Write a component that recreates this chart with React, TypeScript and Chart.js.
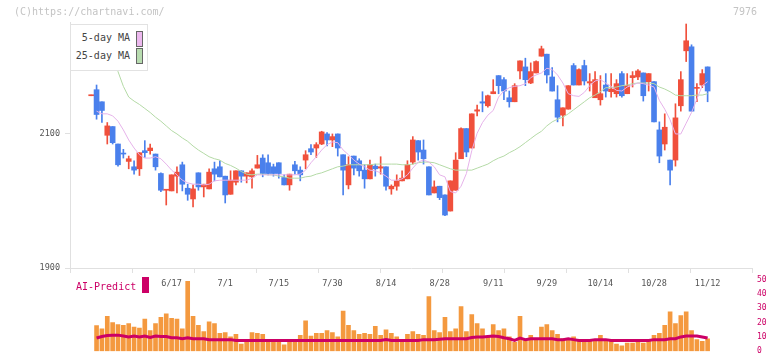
import React, { useEffect, useRef } from "react";
import { Chart, registerables } from "chart.js";

Chart.register(...registerables);

const MONO = '"DejaVu Sans Mono", "Liberation Mono", monospace';
const RED = "#f0503c";
const BLUE = "#4a80ec";
const MA5_COLOR = "#e6b2ea";
const MA25_COLOR = "#b4daa6";
const VOL_COLOR = "#f4993f";
const AI_COLOR = "#cc0066";
const AXIS = "#e0e0e0";

const opens = [
  2157, 2166, 2148, 2098, 2111, 2085, 2071, 2059, 2051, 2048,
  2075, 2075, 2070, 2041, 2016, 2015, 2037, 2054, 2019, 2003,
  2042, 2021, 2018, 2048, 2051, 2037, 2010, 2028, 2045, 2037,
  2036, 2049, 2064, 2057, 2051, 2057, 2035, 2024, 2054, 2046,
  2061, 2078, 2079, 2085, 2100, 2091, 2100, 2069, 2024, 2067,
  2060, 2046, 2033, 2052, 2049, 2051, 2018, 2022, 2030, 2033,
  2058, 2090, 2076, 2051, 2012, 2022, 2009, 1985, 2016, 2063,
  2108, 2079, 2134, 2148, 2142, 2160, 2187, 2181, 2154, 2148,
  2194, 2200, 2176, 2191, 2216, 2219, 2185, 2151, 2128, 2137,
  2202, 2173, 2202, 2176, 2154, 2151, 2173, 2163, 2160, 2190,
  2160, 2184, 2185, 2191, 2178, 2178, 2106, 2085, 2061, 2061,
  2142, 2224, 2230, 2168, 2173, 2200,
];
const highs = [
  2158, 2173, 2148, 2117, 2111, 2085, 2077, 2067, 2060, 2072,
  2090, 2085, 2070, 2042, 2017, 2039, 2051, 2058, 2025, 2024,
  2042, 2025, 2048, 2058, 2060, 2037, 2045, 2045, 2045, 2042,
  2048, 2068, 2069, 2069, 2055, 2057, 2039, 2040, 2059, 2051,
  2075, 2084, 2087, 2104, 2102, 2100, 2100, 2069, 2066, 2067,
  2063, 2054, 2061, 2055, 2066, 2051, 2024, 2039, 2045, 2060,
  2096, 2090, 2091, 2051, 2030, 2022, 2009, 2030, 2072, 2109,
  2108, 2130, 2143, 2163, 2158, 2181, 2187, 2184, 2164, 2175,
  2209, 2213, 2206, 2209, 2231, 2219, 2199, 2172, 2139, 2172,
  2205, 2197, 2210, 2190, 2193, 2187, 2190, 2190, 2181, 2193,
  2190, 2193, 2196, 2191, 2190, 2178, 2118, 2130, 2061, 2145,
  2193, 2264, 2233, 2175, 2196, 2200,
];
const lows = [
  2157, 2122, 2117, 2085, 2085, 2052, 2064, 2048, 2040, 2038,
  2065, 2070, 2046, 2014, 1994, 2015, 2012, 2015, 2001, 1991,
  2016, 2006, 2018, 2030, 2036, 1997, 2010, 2024, 2028, 2027,
  2019, 2049, 2036, 2039, 2037, 2034, 2024, 2016, 2040, 2030,
  2048, 2069, 2065, 2084, 2082, 2081, 2067, 2009, 2018, 2039,
  2037, 2019, 2033, 2037, 2040, 2016, 2010, 2016, 2030, 2033,
  2055, 2061, 2055, 2009, 2012, 2002, 1978, 1985, 2016, 2063,
  2066, 2079, 2127, 2133, 2140, 2160, 2160, 2151, 2140, 2148,
  2182, 2172, 2175, 2191, 2216, 2176, 2164, 2118, 2112, 2137,
  2173, 2173, 2173, 2164, 2154, 2143, 2155, 2155, 2155, 2155,
  2160, 2170, 2181, 2149, 2164, 2118, 2057, 2076, 2024, 2052,
  2134, 2208, 2134, 2148, 2169, 2148,
];
const closes = [
  2158, 2129, 2135, 2112, 2087, 2054, 2070, 2063, 2046, 2072,
  2072, 2079, 2051, 2016, 2017, 2039, 2043, 2025, 2010, 2018,
  2021, 2025, 2043, 2040, 2036, 2009, 2031, 2045, 2037, 2042,
  2045, 2054, 2041, 2041, 2041, 2041, 2024, 2040, 2045, 2039,
  2069, 2073, 2084, 2103, 2091, 2096, 2079, 2046, 2054, 2049,
  2045, 2033, 2054, 2048, 2051, 2022, 2022, 2030, 2034, 2054,
  2091, 2073, 2063, 2009, 2021, 2005, 1979, 2030, 2061, 2108,
  2073, 2130, 2136, 2146, 2157, 2163, 2172, 2164, 2148, 2172,
  2209, 2181, 2193, 2208, 2227, 2188, 2164, 2125, 2139, 2172,
  2173, 2196, 2179, 2178, 2181, 2160, 2164, 2167, 2175, 2157,
  2172, 2187, 2194, 2157, 2190, 2118, 2067, 2110, 2046, 2124,
  2181, 2239, 2134, 2169, 2190, 2164,
];
const ma5 = [
  null, 2134, 2130, 2130, 2127, 2119, 2106, 2091, 2079, 2069,
  2064, 2064, 2066, 2063, 2055, 2046, 2039, 2031, 2027, 2025,
  2025, 2024, 2025, 2030, 2031, 2031, 2031, 2031, 2031, 2031,
  2034, 2039, 2039, 2039, 2039, 2039, 2039, 2039, 2039, 2040,
  2046, 2057, 2066, 2076, 2084, 2088, 2087, 2076, 2069, 2061,
  2055, 2051, 2046, 2045, 2042, 2037, 2031, 2031, 2033, 2039,
  2049, 2058, 2061, 2058, 2051, 2039, 2036, 2014, 2012, 2022,
  2041, 2075, 2101, 2117, 2128, 2135, 2155, 2164, 2169, 2171,
  2172, 2175, 2184, 2188, 2191, 2198, 2196, 2188, 2176, 2160,
  2157, 2156, 2162, 2172, 2179, 2181, 2176, 2171, 2165, 2164,
  2170, 2173, 2176, 2175, 2173, 2170, 2150, 2137, 2121, 2100,
  2100, 2116, 2132, 2152, 2172, 2178,
];
const ma25 = [
  2262, 2256, 2245, 2230, 2212, 2193, 2171, 2155, 2149, 2144,
  2138, 2132, 2125, 2119, 2112, 2105, 2100, 2094, 2089, 2082,
  2076, 2071, 2066, 2063, 2061, 2056, 2053, 2049, 2044, 2040,
  2039, 2040, 2040, 2039, 2039, 2037, 2036, 2034, 2034, 2034,
  2036, 2037, 2040, 2042, 2045, 2048, 2051, 2052, 2054, 2054,
  2054, 2054, 2054, 2055, 2055, 2055, 2055, 2055, 2054, 2054,
  2055, 2057, 2058, 2058, 2057, 2054, 2051, 2048, 2046, 2046,
  2046, 2046, 2049, 2052, 2055, 2060, 2064, 2067, 2072, 2076,
  2081, 2087, 2093, 2099, 2104, 2112, 2118, 2122, 2125, 2130,
  2136, 2142, 2148, 2154, 2158, 2163, 2169, 2169, 2170, 2172,
  2173, 2175, 2176, 2176, 2176, 2175, 2170, 2167, 2163, 2158,
  2157, 2157, 2157, 2158, 2158, 2160,
];
const volumes = [
  null, 18, 15.6, 24.4, 20, 18.7, 18.1, 19.4, 16.9, 16.2,
  22.5, 14.4, 19.4, 23.7, 26.2, 23.1, 22.5, 15.6, 49, 24.4,
  18.1, 13.7, 20.6, 19.4, 12.5, 13.1, 10, 11.9, 5, 6.2,
  13.1, 12.5, 11.9, 6.2, 6.2, 6.2, 4.4, 6.2, 6.2, 11.2,
  21.2, 10.6, 12.5, 12.5, 14.4, 13.1, 10, 28.1, 18.1, 14.4,
  11.9, 12.5, 11.9, 17.5, 11.2, 15, 12.5, 10, 7.1, 11.9,
  13.7, 11.9, 11.2, 38.3, 14.4, 13.1, 23.7, 13.7, 15.6, 31.2,
  13.7, 25.6, 19.4, 15.6, 10, 18.7, 14.4, 15.6, 10, 6.2,
  24.4, 7.5, 11.2, 8.1, 16.9, 18.7, 14.4, 11.9, 8.7, 8.1,
  10, 7.5, 8.1, 7.5, 7.5, 11.2, 7.5, 7.5, 5, 3.7,
  5.6, 5.6, 6.2, 5.6, 7.5, 11.2, 12.5, 18.1, 27.5, 19.4,
  25, 27.5, 14.4, 8.1, 6.9, 8.7,
];
const aiPredict = [
  null, 9.2, 10.3, 11, 11.25, 11.25, 10.6, 10, 10.6, 10,
  10.6, 9.6, 10.6, 10.3, 10.3, 9.4, 9.4, 8.75, 9.4, 8.75,
  8.75, 8.75, 8.1, 8.1, 8.1, 8.1, 8.1, 7.5, 7.5, 7.5,
  7.5, 7.5, 7.5, 7.5, 7.5, 7.5, 7.5, 7.5, 7.5, 7.5,
  7.5, 7.5, 7.5, 7.5, 7.5, 7.5, 7.5, 7.5, 7.5, 7.5,
  7.5, 7.5, 7.5, 7.5, 7.5, 8.1, 7.5, 7.5, 7.5, 7.5,
  7.5, 7.5, 8.1, 8.1, 8.1, 8.4, 8.75, 8.75, 8.75, 8.75,
  8.75, 9.6, 10, 10, 10.3, 10.6, 10.3, 9.4, 8.75, 7.5,
  9.2, 8.1, 8.75, 8.75, 8.75, 8.75, 8.75, 8.1, 8.1, 8.75,
  8.1, 7.5, 7.5, 7.5, 8.1, 8.1, 8.1, 7.5, 7.5, 7.5,
  7.5, 7.5, 7.5, 7.5, 7.5, 8.1, 8.1, 8.1, 8.75, 8.75,
  10, 10.6, 10.6, 10.6, 10, 9.2,
];
const dateLabelIndex = [15, 25, 35, 45, 55, 65, 75, 85, 95, 105, 115];
const dateLabels = ["6/17", "7/1", "7/15", "7/30", "8/14", "8/28", "9/11", "9/29", "10/14", "10/28", "11/12"];
const priceTicks = [1900, 2100];

const X_MIN = -3.955;
const X_MAX = 123.28;
const Y_MIN = 1900;
const Y_MAX = 2267;
const TICK_DIVISIONS = 11;

export default function App() {
  const topRef = useRef<HTMLCanvasElement | null>(null);
  const botRef = useRef<HTMLCanvasElement | null>(null);

  useEffect(() => {
    const idx = opens.map((_, i) => i);
    const colors = idx.map((i) => (closes[i] >= opens[i] ? RED : BLUE));

    const c1 = new Chart(topRef.current as HTMLCanvasElement, {
      type: "bar",
      data: {
        datasets: [
          {
            type: "line",
            label: "5-day MA",
            data: idx.map((i) => ({ x: i, y: ma5[i] })) as any,
            borderColor: MA5_COLOR,
            borderWidth: 1,
            pointRadius: 0,
            order: 0,
          },
          {
            type: "line",
            label: "25-day MA",
            data: idx.map((i) => ({ x: i, y: ma25[i] })) as any,
            borderColor: MA25_COLOR,
            borderWidth: 1,
            pointRadius: 0,
            order: 0,
          },
          {
            type: "bar",
            label: "body",
            data: idx.map((i) => ({ x: i, y: [opens[i], closes[i]] })) as any,
            backgroundColor: colors,
            borderWidth: 0,
            barThickness: 5,
            minBarLength: 1,
            grouped: false,
            order: 1,
          } as any,
          {
            type: "bar",
            label: "wick",
            data: idx.map((i) => ({ x: i, y: [lows[i], highs[i]] })) as any,
            backgroundColor: colors,
            borderWidth: 0,
            barThickness: 1,
            grouped: false,
            order: 2,
          } as any,
        ],
      },
      options: {
        responsive: false,
        animation: false,
        layout: { padding: { top: 22, right: 20, left: 0, bottom: 0 } },
        plugins: { legend: { display: false }, tooltip: { enabled: false } },
        scales: {
          x: {
            type: "linear",
            min: X_MIN,
            max: X_MAX,
            offset: false,
            afterBuildTicks: (s: any) => {
              const vals: number[] = [];
              for (let k = 0; k <= TICK_DIVISIONS; k++) vals.push(X_MIN + (k * (X_MAX - X_MIN)) / TICK_DIVISIONS);
              dateLabelIndex.forEach((v) => vals.push(v));
              vals.sort((a, b) => a - b);
              s.ticks = vals.map((v) => ({ value: v }));
            },
            afterFit: (s: any) => {
              s.height = 32;
            },
            grid: {
              offset: false,
              drawOnChartArea: false,
              drawTicks: true,
              tickLength: 5,
              color: (ctx: any) =>
                ctx.tick && dateLabelIndex.includes(ctx.tick.value) ? "rgba(0,0,0,0)" : AXIS,
            },
            border: { color: AXIS },
            ticks: {
              autoSkip: false,
              maxRotation: 0,
              minRotation: 0,
              padding: 6,
              color: "#555",
              font: { family: MONO, size: 8.5 },
              callback: (v: any) => {
                const k = dateLabelIndex.indexOf(v);
                return k >= 0 ? dateLabels[k] : "";
              },
            },
          },
          y: {
            min: Y_MIN,
            max: Y_MAX,
            afterBuildTicks: (s: any) => {
              s.ticks = priceTicks.map((v) => ({ value: v }));
            },
            afterFit: (s: any) => {
              s.width = 70;
            },
            grid: { drawOnChartArea: false, drawTicks: true, tickLength: 5, color: AXIS },
            border: { color: AXIS },
            ticks: {
              padding: 5,
              color: "#555",
              font: { family: MONO, size: 8.5 },
              callback: (v: any) => String(v),
            },
          },
        },
      } as any,
    });

    const c2 = new Chart(botRef.current as HTMLCanvasElement, {
      type: "bar",
      data: {
        datasets: [
          {
            type: "line",
            label: "AI-Predict",
            data: idx.map((i) => ({ x: i, y: aiPredict[i] })) as any,
            borderColor: AI_COLOR,
            borderWidth: 3,
            pointRadius: 0,
            order: 0,
          },
          {
            type: "bar",
            label: "volume",
            data: idx.map((i) => ({ x: i, y: volumes[i] })) as any,
            backgroundColor: VOL_COLOR,
            borderWidth: 0,
            barThickness: 4,
            grouped: false,
            order: 1,
          } as any,
        ],
      },
      options: {
        responsive: false,
        animation: false,
        layout: { padding: { top: 8, right: 0, left: 70, bottom: 3 } },
        plugins: { legend: { display: false }, tooltip: { enabled: false } },
        scales: {
          x: { type: "linear", min: X_MIN, max: X_MAX, offset: false, display: false },
          y: {
            position: "right",
            min: 0,
            max: 50,
            afterFit: (s: any) => {
              s.width = 20;
            },
            grid: { display: false, drawTicks: false },
            border: { display: false },
            ticks: {
              stepSize: 10,
              padding: 5,
              color: AI_COLOR,
              font: { family: MONO, size: 8 },
              callback: (v: any) => String(v),
            },
          },
        },
      } as any,
    });

    return () => {
      c1.destroy();
      c2.destroy();
    };
  }, []);

  const txt = (extra: any) => ({
    position: "absolute" as const,
    whiteSpace: "nowrap" as const,
    fontFamily: MONO,
    fontSize: 10,
    lineHeight: "12px",
    ...extra,
  });

  return (
    <div
      style={{
        position: "absolute",
        left: 0,
        top: 0,
        width: 772,
        height: 361,
        background: "#fff",
        overflow: "hidden",
      }}
    >
      <canvas ref={topRef} width={772} height={300} style={{ position: "absolute", left: 0, top: 0 }} />
      <canvas ref={botRef} width={772} height={91} style={{ position: "absolute", left: 0, top: 270 }} />

      <div style={txt({ left: 14, top: 5.5, color: "#c4c4c4" })}>(C)https://chartnavi.com/</div>
      <div style={txt({ right: 15, top: 6, color: "#c4c4c4" })}>7976</div>

      <div
        style={{
          position: "absolute",
          left: 70,
          top: 24,
          width: 78,
          height: 47,
          boxSizing: "border-box",
          border: "1px solid #e2e2e2",
          background: "#fff",
        }}
      />
      <div style={txt({ left: 70, width: 60, top: 31.5, textAlign: "right", color: "#444" })}>5-day MA</div>
      <div
        style={{
          position: "absolute",
          left: 136,
          top: 31,
          width: 7,
          height: 16,
          boxSizing: "border-box",
          border: "1px solid #666",
          background: "#ecb8ee",
        }}
      />
      <div style={txt({ left: 70, width: 60, top: 49.5, textAlign: "right", color: "#444" })}>25-day MA</div>
      <div
        style={{
          position: "absolute",
          left: 136,
          top: 48,
          width: 7,
          height: 16,
          boxSizing: "border-box",
          border: "1px solid #666",
          background: "#b8dcb0",
        }}
      />

      <div style={txt({ left: 76, top: 280.5, color: AI_COLOR })}>AI-Predict</div>
      <div style={{ position: "absolute", left: 142, top: 277, width: 7, height: 16, background: AI_COLOR }} />
    </div>
  );
}
